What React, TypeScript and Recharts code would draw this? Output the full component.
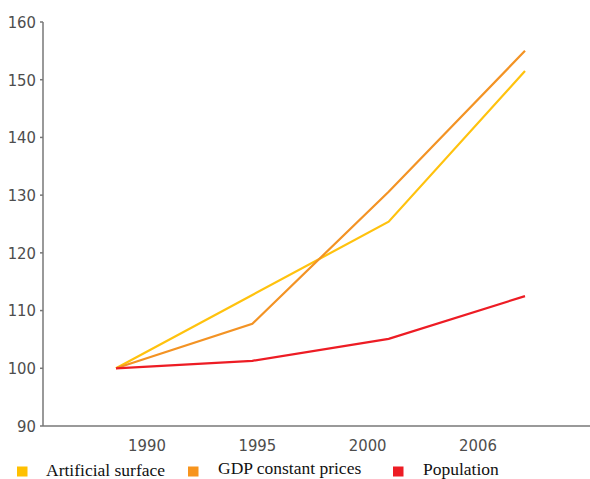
import { LineChart, Line, XAxis, YAxis } from "recharts"

const years = ["1990", "1995", "2000", "2006"]
const artificialSurface = [100, 112.7, 125.4, 151.5]
const gdpConstantPrices = [100, 107.7, 130.6, 155.0]
const population = [100, 101.3, 105.1, 112.5]
const yTicks = [90, 100, 110, 120, 130, 140, 150, 160]

const series = [
  { key: "surface", name: "Artificial surface", color: "#FFC20E", swatch: "#FFC000", x: 17, tx: 46, baseline: 20 },
  { key: "gdp", name: "GDP constant prices", color: "#F39324", swatch: "#F7941D", x: 188, tx: 218, baseline: 18 },
  { key: "pop", name: "Population", color: "#ED1C24", swatch: "#ED1C24", x: 393, tx: 423, baseline: 19 },
]

const data = years.map((year, i) => ({
  year,
  surface: artificialSurface[i],
  gdp: gdpConstantPrices[i],
  pop: population[i],
}))

const axisFont = "'DejaVu Sans Condensed', 'Liberation Sans Narrow', sans-serif"

function LegendRow() {
  return (
    <svg width={590} height={23} style={{ position: "absolute", left: 0, top: 456, display: "block" }}>
      {series.map((s) => (
        <g key={s.key}>
          <rect x={s.x} y={10.5} width={10.5} height={10} fill={s.swatch} />
          <text
            x={s.tx}
            y={s.baseline}
            fontFamily="'Liberation Serif', 'Times New Roman', serif"
            fontSize={17.5}
            fill="#111"
          >
            {s.name}
          </text>
        </g>
      ))}
    </svg>
  )
}

export default function App() {
  return (
    <div style={{ position: "absolute", left: 0, top: 0, width: 590, height: 479, background: "#fff" }}>
      <LineChart width={590} height={479} data={data} margin={{ top: 22, right: 0, left: 0, bottom: 23 }}>
        {/* visible axis only carries the year labels, offset from the data points as in the original */}
        <XAxis
          xAxisId="labels"
          dataKey="year"
          height={30}
          padding={{ left: 104, right: 112 }}
          tickLine={false}
          tickSize={0}
          tickMargin={13}
          axisLine={{ stroke: "#777", strokeWidth: 1.5 }}
          tick={{ fontSize: 16.5, fill: "#4d4d4d", fontFamily: axisFont }}
        />
        <XAxis
          xAxisId="data"
          dataKey="year"
          hide
          height={0}
          padding={{ left: 73, right: 65 }}
        />
        <YAxis
          width={43}
          domain={[90, 160]}
          ticks={yTicks}
          interval={0}
          tickSize={3}
          tickMargin={4}
          tickLine={{ stroke: "#777", strokeWidth: 1.5 }}
          axisLine={{ stroke: "#777", strokeWidth: 1.5 }}
          tick={{ fontSize: 16.5, fill: "#4d4d4d", fontFamily: axisFont }}
        />
        {series.map((s) => (
          <Line
            key={s.key}
            xAxisId="data"
            type="linear"
            dataKey={s.key}
            name={s.name}
            stroke={s.color}
            strokeWidth={2.2}
            dot={false}
            activeDot={false}
            isAnimationActive={false}
          />
        ))}
      </LineChart>
      <LegendRow />
    </div>
  )
}
